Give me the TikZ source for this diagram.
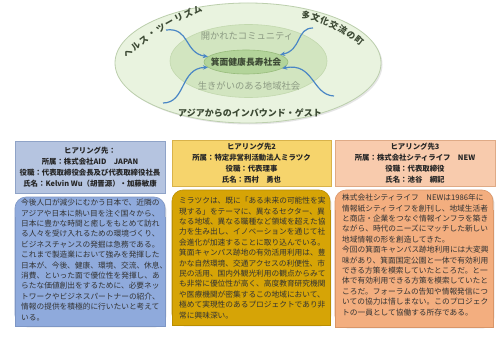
\documentclass[tikz,border=0pt]{standalone}
\usepackage{fontspec}
\setmainfont{Noto Sans CJK JP}
\usetikzlibrary{arrows.meta,shapes.geometric,shadows}
\definecolor{outerF}{HTML}{E9F3DF}
\definecolor{outerD}{HTML}{BCCFAD}
\definecolor{midF}{HTML}{D2E5C0}
\definecolor{midD}{HTML}{C2D8AE}
\definecolor{coreF}{HTML}{B3D49A}
\definecolor{coreD}{HTML}{98BC7C}
\definecolor{arrowC}{HTML}{4A86C5}
\definecolor{txtG}{HTML}{8C9A83}
\definecolor{txtD}{HTML}{3C4934}
\definecolor{hAF}{HTML}{B5C4E0}
\definecolor{hAD}{HTML}{8FA3C7}
\definecolor{bAF}{HTML}{8FAADC}
\definecolor{bAD}{HTML}{7D96C5}
\definecolor{hBF}{HTML}{F6D46C}
\definecolor{hBD}{HTML}{D8B24A}
\definecolor{bBF}{HTML}{D6A406}
\definecolor{bBD}{HTML}{BA8E00}
\definecolor{hCF}{HTML}{F8CBAD}
\definecolor{hCD}{HTML}{DFAA86}
\definecolor{bCF}{HTML}{F3AE7F}
\definecolor{bCD}{HTML}{D99568}
\newcommand{\bodybox}[6]{%
  \path[fill=#5, draw=#6, line width=.6pt, rounded corners=11pt,
    drop shadow={shadow xshift=1.3pt, shadow yshift=-1.3pt, opacity=.25}] (#1,#2) rectangle (#3,#4);
  \fill[#5] ({#1+0.5},{#2+20}) rectangle ({#3-0.5},{#4-0.4});
  \draw[#6, line width=.6pt] (#1,{#2+20}) -- (#1,#4) -- (#3,#4) -- (#3,{#2+20});
}
\begin{document}
\begin{tikzpicture}[x=1pt,y=-1pt,
  hdr/.style={draw, line width=.6pt, align=center, inner sep=0pt,
    font=\fontsize{7.4}{11}\selectfont\bfseries, text=black!85,
    drop shadow={shadow xshift=1.3pt, shadow yshift=-1.3pt, opacity=.25}},
  bodytxt/.style={anchor=north west, align=left, inner sep=0pt,
    font=\fontsize{7.7}{10.4}\selectfont, text=black!80},
  flow/.style={draw=arrowC, line width=1.2pt, -{Stealth[length=5pt,width=4.5pt]}},
  curvech/.style={inner sep=0pt, font=\fontsize{8.8}{9}\selectfont\bfseries, text=txtD},
  ell/.style={ellipse, inner sep=0pt}]
\useasboundingbox (0,0) rectangle (502,350);
\fill[white] (0,0) rectangle (502,350);

% ellipses
\node[ell, fill=outerF, draw=outerD, line width=.8pt, minimum width=266pt, minimum height=120pt,
  drop shadow={shadow xshift=1.5pt, shadow yshift=-1.5pt, opacity=.2}] (outer) at (248,63) {};
\node[ell, fill=midF, draw=midD, line width=.6pt, minimum width=157pt, minimum height=73pt] (mid) at (248.5,61) {};
\node[ell, fill=coreF, draw=coreD, line width=.6pt, minimum width=84pt, minimum height=24pt,
  label={[font=\fontsize{8.8}{10}\selectfont\bfseries, text=txtD]center:箕面健康長寿社会}] (core) at (246,62) {};

\node[font=\fontsize{9.3}{10}\selectfont, text=txtG] (open) at (247,36) {開かれたコミュニティ};
\node[font=\fontsize{9.3}{10}\selectfont, text=txtG] (life) at (249,86) {生きがいのある地域社会};
\node[font=\fontsize{9}{10}\selectfont\bfseries, text=txtD] (asia) at (250,113) {アジアからのインバウンド・ゲスト};

% curved labels
\foreach \c/\px/\py/\a [count=\i] in {ヘ/128/53/42, ル/135.8/46.3/39.5, ス/143.9/39.9/37, ・/152.3/33.9/34.5,
  ツ/160.9/28.2/32, ー/169.7/23/29.5, リ/178.8/18.1/27, ズ/188.1/13.6/24.5, ム/197.5/9.6/22}
  \node[curvech, rotate=\a] (hl\i) at (\px,\py) {\c};
\foreach \c/\px/\py/\a [count=\i] in {多/306/15/-14, 文/315.5/17.7/-18, 化/324.8/21.1/-22, 交/333.9/25.1/-26,
  流/342.6/29.8/-30, の/351/35/-34, 町/359/40.9/-38}
  \node[curvech, rotate=\a] (mc\i) at (\px,\py) {\c};

% arrows
\coordinate (s1) at (166,30);
\coordinate (s2) at (163,103);
\coordinate (s3) at (313,28);
\coordinate (s4) at (334,96);
\draw[flow] (s1) .. controls (190,27) and (184,53) .. (core.172);
\draw[flow] (s2) .. controls (186,103) and (180,68) .. (core.188);
\draw[flow] (s3) .. controls (296,28) and (302,50) .. (core.12);
\draw[flow] (s4) .. controls (312,95) and (314,62) .. (core.350);

% headers
\node[hdr, fill=hAF, draw=hAD, minimum width=150pt, minimum height=52pt] (h1) at (90,167)
  {ヒアリング先：\\所属：株式会社AID　JAPAN\\役職：代表取締役会長及び代表取締役社長\\氏名：Kelvin Wu（胡晋源）・加藤敏康};
\node[hdr, fill=hBF, draw=hBD, minimum width=159pt, minimum height=46pt] (h2) at (251.5,163)
  {ヒアリング先2\\所属：特定非営利活動法人ミラツク\\役職：代表理事\\氏名：西村　勇也};
\node[hdr, fill=hCF, draw=hCD, minimum width=160pt, minimum height=46pt] (h3) at (415,163)
  {ヒアリング先3\\所属：株式会社シティライフ　NEW\\役職：代表取締役\\氏名：池谷　綱記};

% bodies
\bodybox{15}{197}{165}{326}{bAF}{bAD}
\bodybox{172}{190}{330}{325}{bBF}{bBD}
\bodybox{335}{190}{493}{327}{bCF}{bCD}

\node[bodytxt] (t1) at (21,199) {今後人口が減少にむかう日本で、近隣の\\アジアや日本に熱い目を注ぐ国々から、\\日本に豊かな時間と癒しをもとめて訪れ\\る人々を受け入れるための環境づくり、\\ビジネスチャンスの発掘は急務である。\\これまで製造業において強みを発揮した\\日本が、今後、健康、環境、交流、休息、\\消費、といった面で優位性を発揮し、あ\\らたな価値創出をするために、必要ネッ\\トワークやビジネスパートナーの紹介、\\情報の提供を積極的に行いたいと考えて\\いる。};
\node[bodytxt] (t2) at (179,197) {ミラツクは、既に「ある未来の可能性を実\\現する」をテーマに、異なるセクター、異\\なる地域、異なる職種など領域を超えた協\\力を生み出し、イノベーションを通じて社\\会進化が加速することに取り込んでいる。\\箕面キャンパス跡地の有効活用利用は、豊\\かな自然環境、交通アクセスの利便性、市\\民の活用、国内外観光利用の観点からみて\\も非常に優位性が高く、高度教育研究機関\\や医療機関が密集するこの地域において、\\極めて実現性のあるプロジェクトであり非\\常に興味深い。};
\node[bodytxt] (t3) at (342,194) {株式会社シティライフ　NEWは1986年に\\情報紙シティライフを創刊し、地域生活者\\と商店・企業をつなぐ情報インフラを築き\\ながら、時代のニーズにマッチした新しい\\地域情報の形を創造してきた。\\今回の箕面キャンパス跡地利用には大変興\\味があり、箕面国定公園と一体で有効利用\\できる方策を模索していたところだ。と一\\体で有効利用できる方策を模索していたと\\ころだ。フォーラムの告知や情報発信につ\\いての協力は惜しまない。このプロジェク\\トの一員として協働する所存である。};
\end{tikzpicture}
\end{document}
